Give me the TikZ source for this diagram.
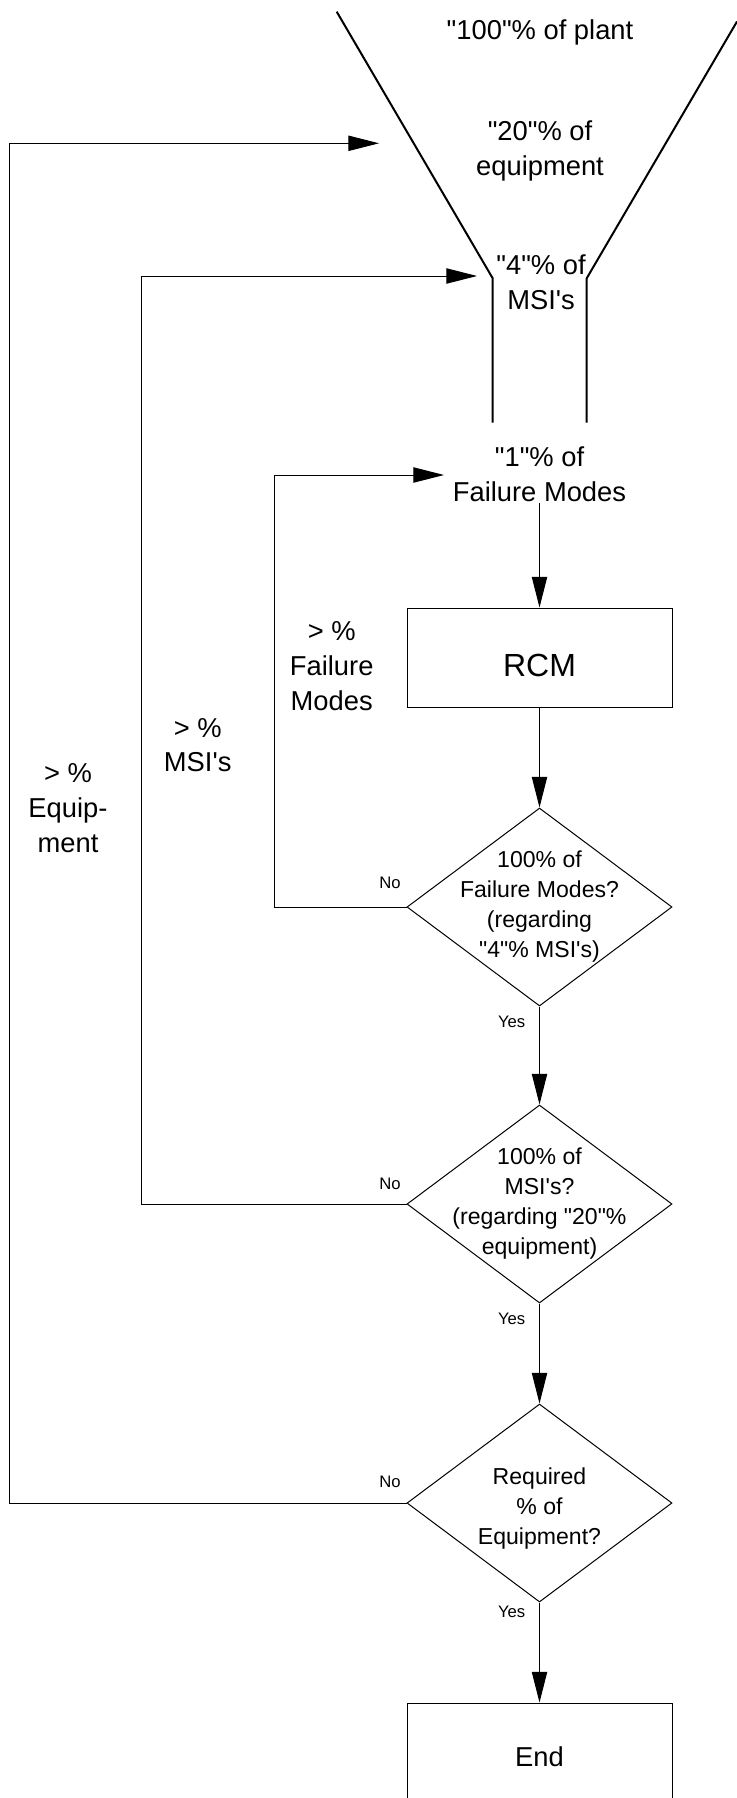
\documentclass[tikz,border=0pt]{standalone}
\usepackage{fontspec}
\setmainfont{Liberation Sans}[Ligatures=TeXOff]
\usetikzlibrary{shapes.geometric,arrows.meta}

\tikzset{every picture/.style={line width=0.75pt}}
\tikzset{
  flow/.style={-{Triangle[length=23pt,width=11.5pt]}},
  process/.style={draw, rectangle, minimum width=198.75pt, minimum height=74.25pt, inner sep=0pt},
  decision/.style={draw, diamond, minimum width=198.75pt, minimum height=148.5pt, inner sep=0pt},
  bigtext/.style={inner sep=0.75pt, align=center, font=\fontsize{20.5}{26}\selectfont},
  asktext/.style={inner sep=0.75pt, align=center, font=\fontsize{17.3}{22.5}\selectfont},
  answer/.style={inner sep=0.75pt, font=\fontsize{12.5}{15}\selectfont},
}

\begin{document}
\begin{tikzpicture}[x=0.75pt,y=0.75pt,yscale=-1,xscale=1]
\useasboundingbox (0,0) rectangle (737,1798);

%Shape: Funnel
\draw [line width=1.5pt] (336.7,11.7) -- (492.7,278.3) -- (492.7,422.7) ;
\draw [line width=1.5pt] (737,21.5) -- (586.7,278.3) -- (586.7,422.7) ;

% Text Node
\node [bigtext] (plant) at (540,32) {"100"\% of plant};
% Text Node
\node [bigtext] (equip) at (540,151) {"20"\% of\\equipment};
% Text Node
\node [bigtext] (msi) at (541,282) {"4"\% of\\MSI's};
% Text Node
\node [bigtext] (fmodes) at (539.5,474) {"1"\% of\\Failure Modes};

%Shape: Rectangle
\node [process, font=\fontsize{24}{28}\selectfont, text height=28.4pt, text depth=0pt] (rcm) at (539.5,657.5) {RCM};

%Shape: Diamond
\node [decision] (ask1) at (539.5,907) {};
\node [asktext] (ask1text) at (ask1) {100\% of\\Failure Modes?\\(regarding\\"4"\% MSI's)};
%Shape: Diamond
\node [decision] (ask2) at (539.5,1204) {};
\node [asktext] (ask2text) at (ask2) {100\% of\\MSI's?\\(regarding "20"\%\\equipment)};
%Shape: Diamond
\node [decision] (ask3) at (539.5,1503) {};
\node [asktext] (ask3text) at (539.5,1509) {Required\\\% of\\Equipment?};

%Shape: Rectangle
\node [process, minimum height=81pt, font=\fontsize{20.5}{26}\selectfont] (finish) at (539.5,1757) {End};

% Text Node
\node [answer] (no1) at (390,883) {No};
\node [answer] (yes1) at (511.7,1021.7) {Yes};
\node [answer] (no2) at (390,1184) {No};
\node [answer] (yes2) at (511.7,1318.5) {Yes};
\node [answer] (no3) at (390,1482) {No};
\node [answer] (yes3) at (511.7,1611.7) {Yes};

% Text Node
\node [bigtext] (fmmore) at (331.7,666) {> \%\\Failure\\Modes};
\node [bigtext] (msimore) at (197.7,745) {> \%\\MSI's};
\node [bigtext] (eqmore) at (68,808) {> \%\\Equip-\\ment};

\coordinate (fmturn) at (274,475);
\coordinate (fmin) at (444,475);
\coordinate (msiturn) at (141.7,276);
\coordinate (msiin) at (477,276);
\coordinate (eqturn) at (9.3,143.3);
\coordinate (eqin) at (379,143.3);

%Straight Lines
\draw [flow] (fmodes) -- (rcm);
\draw [flow] (rcm) -- (ask1);
\draw [flow] (ask1) -- (ask2);
\draw [flow] (ask2) -- (ask3);
\draw [flow] (ask3) -- (finish);
%Straight Lines
\draw [flow] (ask1.west) -| (fmturn) -- (fmin);
\draw [flow] (ask2.west) -| (msiturn) -- (msiin);
\draw [flow] (ask3.west) -| (eqturn) -- (eqin);

\end{tikzpicture}
\end{document}
